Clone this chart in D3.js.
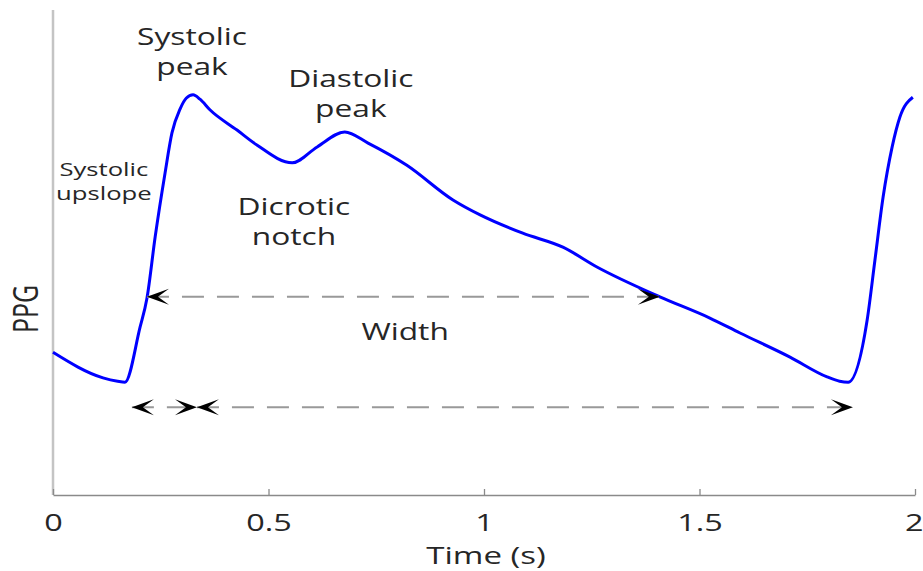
<!DOCTYPE html>
<html>
<head>
<meta charset="utf-8">
<script src="https://cdn.jsdelivr.net/npm/d3@7"></script>
<style>
  html, body { margin: 0; padding: 0; background: #fff; }
  svg { display: block; }
  text { font-family: "Open Sans", "Noto Sans", sans-serif; fill: #262626; }
</style>
</head>
<body>
<svg id="chart" width="923" height="571"></svg>
<script>
// ---- Data ----
const time = [0, 0.116, 0.150, 0.167, 0.202, 0.218, 0.237, 0.260, 0.276, 0.295, 0.309, 0.325, 0.341, 0.364, 0.427, 0.473, 0.555, 0.613, 0.677, 0.731, 0.821, 0.928, 0.991, 1.090, 1.183, 1.262, 1.408, 1.524, 1.594, 1.710, 1.796, 1.825, 1.845, 1.889, 1.907, 1.926, 1.947, 1.965, 1.995];
const ppg  = [0.290, 0.237, 0.230, 0.228, 0.342, 0.402, 0.529, 0.662, 0.745, 0.795, 0.817, 0.824, 0.815, 0.793, 0.751, 0.720, 0.683, 0.716, 0.747, 0.724, 0.678, 0.606, 0.575, 0.537, 0.508, 0.467, 0.405, 0.361, 0.330, 0.280, 0.239, 0.230, 0.228, 0.357, 0.481, 0.612, 0.716, 0.778, 0.819];

const tickValues = [0, 0.5, 1, 1.5, 2];
const tickLabels = ["0", "0.5", "1", "1.5", "2"];

// arrows: start time, end time, level (heads at both ends)
const arrowStart = [0.218, 0.183, 0.334];
const arrowEnd   = [1.408, 0.334, 1.856];
const arrowLevel = [0.405, 0.176, 0.176];

// annotations (anchor in data units: centre time, first-line baseline value)
const annText  = [["Systolic", "peak"], ["Diastolic", "peak"], ["Dicrotic", "notch"], ["Systolic", "upslope"], ["Width"]];
const annTime  = [0.3225, 0.691, 0.559, 0.118, 0.817];
const annValue = [0.927, 0.840, 0.575, 0.656, 0.315];
const annSize  = [23.5, 23.5, 23.5, 19, 23.5];

const xLabel = "Time (s)";
const yLabel = "PPG";

// ---- Layout ----
const SX = 1.35; // horizontal text stretch seen in the reference
const svg = d3.select("#chart");
const x = d3.scaleLinear().domain([0, 2]).range([53, 915]);
const y = d3.scaleLinear().domain([-0.006, 1]).range([495, 10]);

// left axis line (light)
svg.append("line")
  .attr("x1", x(0)).attr("x2", x(0))
  .attr("y1", y(1)).attr("y2", y(-0.006))
  .attr("stroke", "#c4c4c4").attr("stroke-width", 2.5);

// bottom axis
const xAxis = d3.axisBottom(x)
  .tickValues(tickValues)
  .tickFormat((d, i) => tickLabels[i])
  .tickSizeInner(-6).tickSizeOuter(0).tickPadding(0);
const gx = svg.append("g").attr("transform", `translate(0,${y(-0.006)})`).call(xAxis);
gx.select(".domain").attr("stroke", "#8a8a8a").attr("stroke-width", 1.3);
gx.selectAll(".tick line").attr("stroke", "#8a8a8a").attr("stroke-width", 1.3);
gx.selectAll(".tick text")
  .attr("y", 36).attr("dy", null)
  .attr("transform", `scale(${SX},1)`)
  .style("font-family", "'Open Sans', sans-serif")
  .style("font-size", "24px").attr("fill", "#262626");
// keep the last label inside the picture
gx.selectAll(".tick text").filter((d, i) => i === tickValues.length - 1)
  .attr("text-anchor", "end").attr("x", 6);

// x label
svg.append("text")
  .attr("transform", `translate(486,564) scale(${SX},1)`)
  .attr("text-anchor", "middle").style("font-size", "24.5px").text(xLabel);
// y label
svg.append("text")
  .attr("transform", `translate(38,309) scale(${SX},1) rotate(-90)`)
  .attr("text-anchor", "middle").style("font-size", "25px").text(yLabel);

// PPG curve
const pts = time.map((t, i) => [t, ppg[i]]);
svg.append("path")
  .attr("d", d3.line().x(d => x(d[0])).y(d => y(d[1])).curve(d3.curveMonotoneX)(pts))
  .attr("fill", "none").attr("stroke", "#0000ff").attr("stroke-width", 3)
  .attr("stroke-linejoin", "round");

// arrows
function head(px, py, dir) {
  const L = 22, W = 8, N = 11;
  const p = [[px, py], [px - dir * L, py - W], [px - dir * N, py], [px - dir * L, py + W]];
  svg.append("path").attr("d", "M" + p.map(q => q.join(",")).join("L") + "Z").attr("fill", "#000");
}
arrowStart.forEach((s, i) => {
  const x1 = x(s), x2 = x(arrowEnd[i]), yy = y(arrowLevel[i]);
  svg.append("line").attr("x1", x1).attr("x2", x2).attr("y1", yy).attr("y2", yy)
    .attr("stroke", "#999").attr("stroke-width", 2).attr("stroke-dasharray", "22,13");
  head(x1, yy, -1);
  head(x2, yy, 1);
});

// annotations
annText.forEach((lines, i) => {
  const lh = annSize[i] * 1.28;
  lines.forEach((ln, j) => {
    svg.append("text")
      .attr("transform", `translate(${x(annTime[i])},${y(annValue[i]) + j * lh}) scale(${SX},1)`)
      .attr("text-anchor", "middle").style("font-size", annSize[i] + "px").text(ln);
  });
});
</script>
</body>
</html>
